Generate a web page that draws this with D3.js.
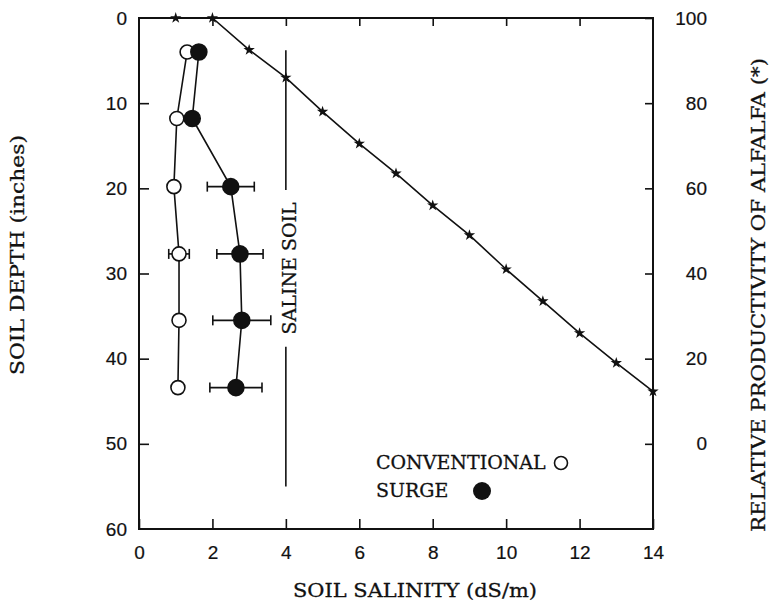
<!DOCTYPE html>
<html>
<head>
<meta charset="utf-8">
<script src="https://cdnjs.cloudflare.com/ajax/libs/d3/7.8.5/d3.min.js"></script>
<style>
  body { margin: 0; background: #fff; }
  svg { display: block; }
  .lbl { font-family: 'DejaVu Serif', serif; font-size: 19px; fill: #111; stroke: #111; stroke-width: 0.3px; }
  .tick text { font-family: 'Liberation Sans', Arial, sans-serif; font-size: 19px; fill: #111; stroke: #111; stroke-width: 0.2px; }
</style>
</head>
<body>
<script>
// sample depths (inches)
const depths = [4, 11.8, 19.8, 27.7, 35.5, 43.4];
// conventional irrigation salinity (dS/m) and error half-widths
const convSalinity = [1.31, 1.03, 0.95, 1.09, 1.09, 1.06];
const convErr = [0, 0, 0, 0.28, 0, 0];
// surge irrigation salinity (dS/m) and error half-widths
const surgeSalinity = [1.63, 1.45, 2.5, 2.75, 2.8, 2.64];
const surgeErr = [0, 0, 0.64, 0.63, 0.79, 0.71];
// alfalfa relative productivity (%) vs salinity
const prodSalinity = [1, 2, 3, 4, 5, 6, 7, 8, 9, 10, 11, 12, 13, 14];
const prodValues = [100, 100, 92.5, 86, 78, 70.5, 63.5, 56, 49, 41, 33.5, 26, 19, 12.3];
// saline soil threshold
const salineThreshold = 4;
const salineSpan = [3.8, 20.2, 38.6, 55];   // depth: line / gap for text / line
const xTicks = [0, 2, 4, 6, 8, 10, 12, 14];
const depthTicks = [0, 10, 20, 30, 40, 50, 60];
const prodTicks = [100, 80, 60, 40, 20, 0];

const W = 769, H = 603;
const margin = { top: 18, right: 116, bottom: 74, left: 139 },
  width = W - margin.left - margin.right,
  height = H - margin.top - margin.bottom;

const x = d3.scaleLinear().domain([0, 14]).range([0, width]);
const y = d3.scaleLinear().domain([0, 60]).range([0, height]);
const yr = d3.scaleLinear().domain([100, -20]).range([0, height]);

const svg = d3.select('body').append('svg')
  .attr('width', W)
  .attr('height', H)
  .append('g')
  .attr('transform', `translate(${margin.left},${margin.top})`);

// axes (ticks point inward)
svg.append('g')
  .attr('transform', `translate(0,${height})`)
  .call(d3.axisBottom(x).tickValues(xTicks).tickSize(-10).tickPadding(17).tickFormat(d3.format('d')));
svg.append('g')
  .call(d3.axisTop(x).tickValues(xTicks.slice(1, -1)).tickSize(-8).tickFormat(''));
svg.append('g')
  .call(d3.axisLeft(y).tickValues(depthTicks.slice(1, -1)).tickSize(-10).tickFormat(''));
svg.append('g')
  .call(d3.axisLeft(y).tickValues(depthTicks).tickSize(0).tickPadding(12));
const rightAx = svg.append('g')
  .attr('transform', `translate(${width},0)`)
  .call(d3.axisRight(yr).tickValues(prodTicks).tickSize(-8).tickPadding(0));
rightAx.selectAll('.tick text')
  .attr('text-anchor', 'end')
  .attr('x', 54);
svg.selectAll('.domain').remove();
svg.selectAll('.tick line').attr('stroke', '#111').attr('stroke-width', 1.6);

// frame
svg.append('rect')
  .attr('width', width)
  .attr('height', height)
  .attr('fill', 'none')
  .attr('stroke', '#111')
  .attr('stroke-width', 2);

// productivity line
const prod = prodSalinity.map((s, i) => ({ s, p: prodValues[i] }));
svg.append('path')
  .datum(prod)
  .attr('fill', 'none')
  .attr('stroke', '#111')
  .attr('stroke-width', 1.6)
  .attr('d', d3.line().x(d => x(d.s)).y(d => yr(d.p)));
svg.selectAll('.star')
  .data(prod)
  .enter().append('path')
  .attr('class', 'star')
  .attr('transform', d => `translate(${x(d.s)},${yr(d.p)})`)
  .attr('d', d3.symbol().type(d3.symbolStar).size(40))
  .attr('fill', '#111');

// saline soil marker
svg.append('line')
  .attr('x1', x(salineThreshold)).attr('x2', x(salineThreshold))
  .attr('y1', y(salineSpan[0])).attr('y2', y(salineSpan[1]))
  .attr('stroke', '#111').attr('stroke-width', 1.6);
svg.append('line')
  .attr('x1', x(salineThreshold)).attr('x2', x(salineThreshold))
  .attr('y1', y(salineSpan[2])).attr('y2', y(salineSpan[3]))
  .attr('stroke', '#111').attr('stroke-width', 1.6);
svg.append('text')
  .attr('class', 'lbl')
  .attr('transform', `translate(${x(salineThreshold) + 10},${y((salineSpan[1] + salineSpan[2]) / 2)}) rotate(-90)`)
  .attr('text-anchor', 'middle')
  .text('SALINE SOIL');

function series(sal, err, filled, r) {
  const data = depths.map((d, i) => ({ d, s: sal[i], e: err[i] }));
  svg.append('path')
    .datum(data)
    .attr('fill', 'none')
    .attr('stroke', '#111')
    .attr('stroke-width', 1.6)
    .attr('d', d3.line().x(d => x(d.s)).y(d => y(d.d)));
  const eb = data.filter(d => d.e > 0);
  const g = svg.append('g').attr('stroke', '#111').attr('stroke-width', 1.6);
  g.selectAll('.bar').data(eb).enter().append('line')
    .attr('x1', d => x(d.s - d.e)).attr('x2', d => x(d.s + d.e))
    .attr('y1', d => y(d.d)).attr('y2', d => y(d.d));
  g.selectAll('.capl').data(eb).enter().append('line')
    .attr('x1', d => x(d.s - d.e)).attr('x2', d => x(d.s - d.e))
    .attr('y1', d => y(d.d) - 5).attr('y2', d => y(d.d) + 5);
  g.selectAll('.capr').data(eb).enter().append('line')
    .attr('x1', d => x(d.s + d.e)).attr('x2', d => x(d.s + d.e))
    .attr('y1', d => y(d.d) - 5).attr('y2', d => y(d.d) + 5);
  svg.selectAll(null).data(data).enter().append('circle')
    .attr('cx', d => x(d.s))
    .attr('cy', d => y(d.d))
    .attr('r', r)
    .attr('fill', filled ? '#111' : '#fff')
    .attr('stroke', '#111')
    .attr('stroke-width', 1.6);
}
series(convSalinity, convErr, false, 7);
series(surgeSalinity, surgeErr, true, 8);

// legend
svg.append('text').attr('class', 'lbl')
  .attr('x', 376 - margin.left).attr('y', 469 - margin.top)
  .text('CONVENTIONAL');
svg.append('circle')
  .attr('cx', 561 - margin.left).attr('cy', 463 - margin.top).attr('r', 6.5)
  .attr('fill', '#fff').attr('stroke', '#111').attr('stroke-width', 1.6);
svg.append('text').attr('class', 'lbl')
  .attr('x', 376 - margin.left).attr('y', 497 - margin.top)
  .text('SURGE');
svg.append('circle')
  .attr('cx', 482 - margin.left).attr('cy', 491 - margin.top).attr('r', 9)
  .attr('fill', '#111');

// axis titles
svg.append('text').attr('class', 'lbl')
  .attr('x', 293 - margin.left).attr('y', 597 - margin.top)
  .attr('textLength', 244).attr('lengthAdjust', 'spacingAndGlyphs')
  .text('SOIL SALINITY (dS/m)');
svg.append('text').attr('class', 'lbl')
  .attr('transform', `translate(${24 - margin.left},${375 - margin.top}) rotate(-90)`)
  .attr('textLength', 240).attr('lengthAdjust', 'spacingAndGlyphs')
  .text('SOIL DEPTH (inches)');
svg.append('text').attr('class', 'lbl')
  .attr('transform', `translate(${765 - margin.left},${532 - margin.top}) rotate(-90)`)
  .attr('textLength', 474).attr('lengthAdjust', 'spacingAndGlyphs')
  .text('RELATIVE PRODUCTIVITY OF ALFALFA (*)');
</script>
</body>
</html>
